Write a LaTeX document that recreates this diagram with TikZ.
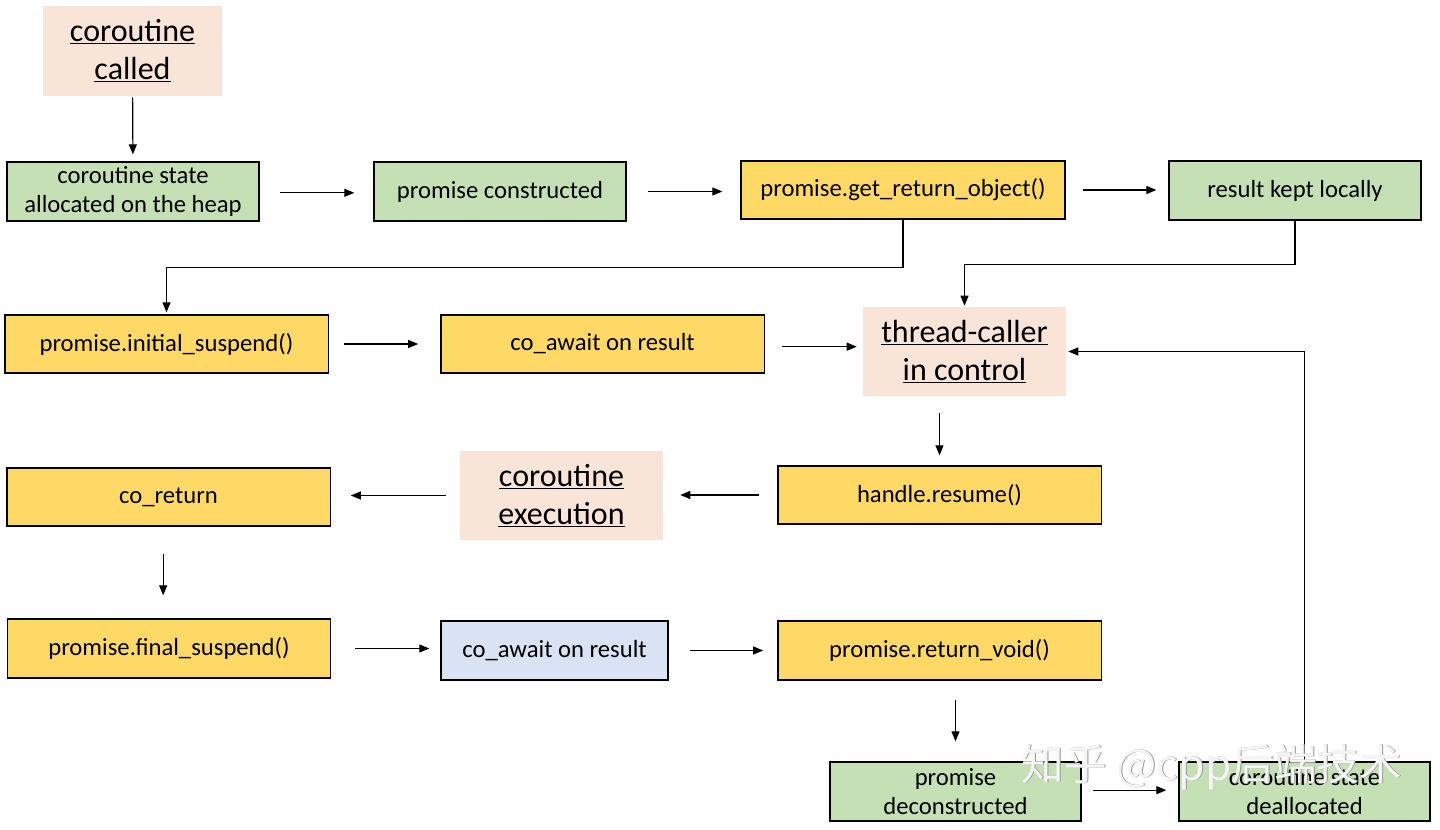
\documentclass[tikz,border=0pt]{standalone}
\usepackage{fontspec}
\setmainfont{Carlito}
\newfontfamily\cjk{Noto Sans CJK SC}
\usetikzlibrary{arrows.meta}
\definecolor{peach}{HTML}{F8E5D8}
\definecolor{grn}{HTML}{C5E0B4}
\definecolor{ylw}{HTML}{FFD966}
\definecolor{blu}{HTML}{DAE3F3}
\begin{document}
\begin{tikzpicture}[x=0.75pt,y=-0.75pt,
  box/.style={draw=black, line width=1pt, inner sep=0pt, align=center,
    font=\fontsize{18.5}{21.75}\selectfont},
  gbox/.style={box, fill=grn, minimum width=189pt, minimum height=44.25pt},
  ybox/.style={box, fill=ylw, minimum width=242.5pt, minimum height=43.5pt},
  hdr/.style={fill=peach, inner sep=0pt, align=center, minimum width=134.25pt,
    font=\fontsize{24}{28.5}\selectfont},
  arr/.style={-{Triangle[length=7.5pt,width=6pt]}, line width=0.85pt}]
\fill[white] (0,0) rectangle (1440,830);
\useasboundingbox (0,0) rectangle (1440,830);

\node[hdr, minimum height=67.5pt] (called) at (132.5,51) {\underline{coroutine}\\\underline{called}};
\node[gbox] (alloc) at (133,191.5) {coroutine state\\allocated on the heap};
\node[gbox] (constr) at (500,191.5) {promise constructed};
\node[ybox, minimum width=243pt] (get) at (903,190) {promise.get\_return\_object()};
\node[gbox] (result) at (1295,190.5) {result kept locally};
\node[ybox] (init) at (166.5,344) {promise.initial\_suspend()};
\node[ybox] (await) at (602.5,344) {co\_await on result};
\node[hdr, minimum width=152.25pt, minimum height=66.75pt] (thread) at (964.5,351.5) {\underline{thread-caller}\\\underline{in control}};
\node[ybox] (resume) at (939.5,495) {handle.resume()};
\node[hdr, minimum width=152.25pt, minimum height=66.75pt] (exec) at (561.5,495.5) {\underline{coroutine}\\\underline{execution}};
\node[ybox] (coret) at (168.5,497) {co\_return};
\node[ybox, minimum height=44.25pt] (final) at (169,648.5) {promise.final\_suspend()};
\node[box, fill=blu, minimum width=170.25pt, minimum height=44.25pt] (bawait) at (554.5,650.5) {co\_await on result};
\node[ybox, minimum height=44.25pt] (retv) at (939.5,650.5) {promise.return\_void()};
\node[gbox, minimum width=188.25pt] (decon) at (955.5,791.5) {promise\\deconstructed};
\node[gbox, minimum width=188.25pt] (dealloc) at (1304.5,791.5) {coroutine state\\deallocated};

\draw[arr, shorten <=0.75pt, shorten >=5.25pt] (called) -- (alloc);
\draw[arr, shorten <=15pt, shorten >=14.25pt] ([yshift=-1pt]alloc.east) -- ([yshift=-1pt]alloc.east -| constr.west);
\draw[arr, shorten <=15.75pt, shorten >=13.5pt] (constr.east) -- (constr.east -| get.west);
\draw[arr, shorten <=12.75pt, shorten >=9pt] (get.east) -- (get.east -| result.west);
\draw[arr, shorten >=1.5pt] (get.south) -- ++(0,48) -| (init.north);
\draw[arr, shorten >=0.75pt] (result.south) -- ++(0,44) -| (thread.north);
\draw[arr, shorten <=11.25pt, shorten >=16.5pt] (init.east) -- (init.east -| await.west);
\draw[arr, shorten <=12.75pt, shorten >=4.5pt] ([yshift=-2pt]await.east) -- ([yshift=-2pt]await.east -| thread.west);
\draw[arr, shorten <=12.75pt, shorten >=7.5pt] (thread.south -| resume.north) -- (resume.north);
\draw[arr, shorten <=13.5pt, shorten >=12.75pt] (resume.west) -- (resume.west -| exec.east);
\draw[arr, shorten <=10.5pt, shorten >=15pt] (exec.west) -- (exec.west -| coret.east);
\draw[arr, shorten <=20.25pt, shorten >=17.25pt] ([xshift=-4pt]coret.south) -- ([xshift=-4pt]coret.south |- final.north);
\draw[arr, shorten <=18pt, shorten >=8.25pt] (final.east) -- (final.east -| bawait.west);
\draw[arr, shorten <=15.75pt, shorten >=10.5pt] (bawait.east) -- (bawait.east -| retv.west);
\draw[arr, shorten <=14.25pt, shorten >=15pt] (retv.south -| decon.north) -- (decon.north);
\draw[arr, shorten <=8.25pt, shorten >=9pt] ([yshift=1pt]decon.east) -- ([yshift=1pt]decon.east -| dealloc.west);
\draw[arr, shorten >=1.5pt] (dealloc.north) |- (thread.east);

\node[text=gray!80, font=\cjk\fontsize{32}{34}\selectfont, anchor=center] (wm1) at (1212.8,767.8) {知乎 @cpp后端技术};
\node[text=white!92!gray, font=\cjk\fontsize{32}{34}\selectfont, anchor=center] (wm2) at (1212,767) {知乎 @cpp后端技术};
\end{tikzpicture}
\end{document}
